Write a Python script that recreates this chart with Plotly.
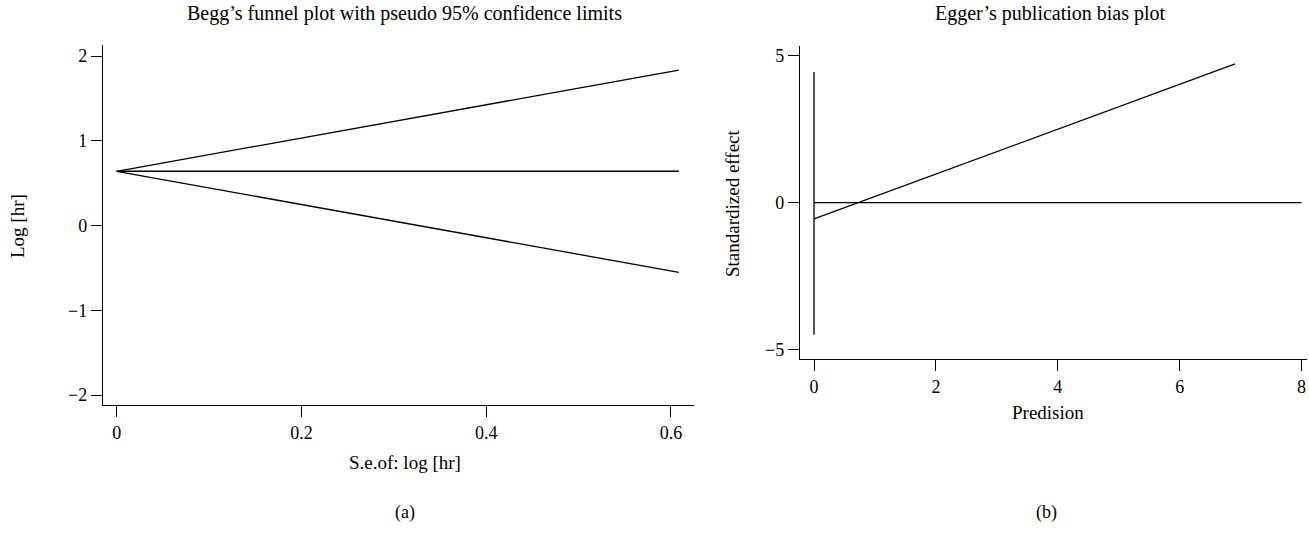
import plotly.graph_objects as go

W, H = 1309, 533

# Begg's funnel plot data
begg_se = [0.0, 0.6086]
begg_upper = [0.64, 1.833]
begg_center = [0.64, 0.64]
begg_lower = [0.64, -0.553]
begg_xticks = [0, 0.2, 0.4, 0.6]
begg_yticks = [-2, -1, 0, 1, 2]

# Egger's plot data
egger_prec_ci = [0.0, 0.0]
egger_ci = [-4.5, 4.45]
egger_zero_x = [0.0, 8.0]
egger_zero_y = [0.0, 0.0]
egger_reg_x = [0.0, 6.91]
egger_reg_y = [-0.556, 4.73]
egger_xticks = [0, 2, 4, 6, 8]
egger_yticks = [-5, 0, 5]

FONT = "Liberation Serif"
line = dict(color="black", width=1.3)

fig = go.Figure()
for ys in (begg_upper, begg_center, begg_lower):
    fig.add_trace(go.Scatter(x=begg_se, y=ys, mode="lines", line=line,
                             xaxis="x", yaxis="y", showlegend=False, hoverinfo="skip"))
fig.add_trace(go.Scatter(x=egger_prec_ci, y=egger_ci, mode="lines", line=line,
                         xaxis="x2", yaxis="y2", showlegend=False, hoverinfo="skip"))
fig.add_trace(go.Scatter(x=egger_zero_x, y=egger_zero_y, mode="lines", line=line,
                         xaxis="x2", yaxis="y2", showlegend=False, hoverinfo="skip"))
fig.add_trace(go.Scatter(x=egger_reg_x, y=egger_reg_y, mode="lines", line=line,
                         xaxis="x2", yaxis="y2", showlegend=False, hoverinfo="skip"))

def px(x):
    return x / W

def py(y):
    return (H - y) / H

axcommon = dict(showline=True, linecolor="black", linewidth=1.3, ticks="outside",
                ticklen=11, tickwidth=1.3, tickcolor="black", showgrid=False,
                zeroline=False, tickfont=dict(family=FONT, size=18, color="black"))

fig.update_layout(
    width=W, height=H, margin=dict(l=0, r=0, t=0, b=0),
    paper_bgcolor="white", plot_bgcolor="white",
    font=dict(family=FONT, size=18, color="black"),
    xaxis=dict(domain=[px(103), px(694)], range=[-0.0148, 0.625], anchor="y",
               tickvals=begg_xticks, ticktext=["0", "0.2", "0.4", "0.6"], **axcommon),
    yaxis=dict(domain=[py(405), py(45)], range=[-2.118, 2.13], anchor="x",
               tickvals=begg_yticks, ticktext=["\u22122", "\u22121", "0", "1", "2"], **axcommon),
    xaxis2=dict(domain=[px(800), px(1307)], range=[-0.23, 8.09], anchor="y2",
                tickvals=egger_xticks, ticktext=[str(v) for v in egger_xticks], **axcommon),
    yaxis2=dict(domain=[py(359.3), py(46)], range=[-5.34, 5.34], anchor="x2",
                tickvals=egger_yticks, ticktext=["\u22125", "0", "5"], **axcommon),
)

ann = [
    ("Begg\u2019s funnel plot with pseudo 95% confidence limits", 405, 13, 0, 20),
    ("S.e.of: log [hr]", 405, 462, 0, 19),
    ("(a)", 405, 512, 0, 18),
    ("Log [hr]", 18, 226, -90, 19),
    ("Egger\u2019s publication bias plot", 1050, 13, 0, 20),
    ("Predision", 1048, 412, 0, 19),
    ("(b)", 1046, 512, 0, 18),
    ("Standardized effect", 733, 203, -90, 19),
]
for text, x, y, ang, sz in ann:
    fig.add_annotation(text=text, x=px(x), y=py(y), xref="paper", yref="paper",
                       showarrow=False, textangle=ang, xanchor="center", yanchor="middle",
                       font=dict(family=FONT, size=sz, color="black"))

fig.write_html("out.html")
